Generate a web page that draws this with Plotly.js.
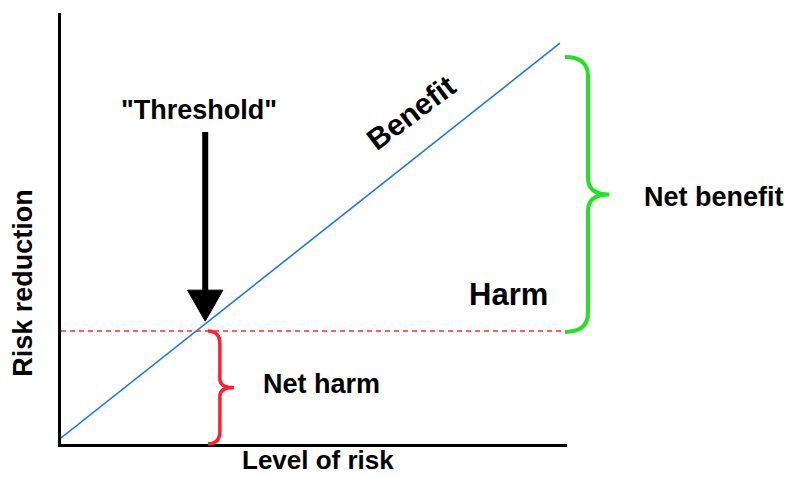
<!DOCTYPE html>
<html>
<head>
<meta charset="utf-8">
<script src="https://cdn.plot.ly/plotly-3.0.1.min.js"></script>
<style>
  html, body { margin: 0; padding: 0; background: #fff; }
  #chart { width: 788px; height: 477px; }
</style>
</head>
<body>
<div id="chart"></div>
<script>
// Risk reduction vs level of risk (schematic)
const riskLevel = [0, 0.986];
const riskReduction = [0.014, 0.930];
const harmX = [0, 0.99];
const harmY = [0.262, 0.262];

// threshold arrow and braces (paper units, same as axis units here)
const arrowX = 0.285;
const arrowTail = 0.724;
const arrowTip = 0.285;

const FONT = 'Liberation Sans, Arial, sans-serif';

function brace(x0, xv, xt, yTop, yBot, r, rt) {
    const ym = (yTop + yBot) / 2;
    return `M${x0},${yTop} Q${xv},${yTop} ${xv},${yTop - r} L${xv},${ym + rt} ` +
           `Q${xv},${ym} ${xt},${ym} Q${xv},${ym} ${xv},${ym - rt} ` +
           `L${xv},${yBot + r} Q${xv},${yBot} ${x0},${yBot}`;
}

function label(text, x, y, size, angle) {
    return {
        text: text, x: x, y: y, xref: 'paper', yref: 'paper',
        xanchor: 'center', yanchor: 'middle',
        showarrow: false, textangle: angle || 0,
        font: { family: FONT, size: size, color: '#000', weight: 'bold' }
    };
}

const traces = [
    {
        x: riskLevel, y: riskReduction, type: 'scatter', mode: 'lines',
        line: { color: '#1a76f2', width: 1.6 }, hoverinfo: 'skip'
    },
    {
        x: harmX, y: harmY, type: 'scatter', mode: 'lines',
        line: { color: '#ff2b2b', width: 1.5, dash: '5px,4px' }, hoverinfo: 'skip'
    }
];

const headW = 0.035, headL = 0.072;

const xTitle = label('Level of risk', 0.508, -0.0765, 26);
xTitle.yanchor = 'bottom';

const layout = {
    width: 788, height: 477,
    margin: { l: 61, r: 221, t: 13, b: 33 },
    paper_bgcolor: '#fff', plot_bgcolor: '#fff',
    showlegend: false,
    xaxis: {
        range: [0, 1], showgrid: false, zeroline: false, showticklabels: false,
        ticks: '', showline: true, linecolor: '#000', linewidth: 3, fixedrange: true
    },
    yaxis: {
        range: [0, 1], showgrid: false, zeroline: false, showticklabels: false,
        ticks: '', showline: true, linecolor: '#000', linewidth: 3, fixedrange: true
    },
    shapes: [
        // arrow shaft
        {
            type: 'line', xref: 'paper', yref: 'paper',
            x0: arrowX, x1: arrowX, y0: arrowTail, y1: arrowTip + headL - 0.005,
            line: { color: '#000', width: 6 }
        },
        // arrow head
        {
            type: 'path', xref: 'paper', yref: 'paper',
            path: `M${arrowX - headW},${arrowTip + headL} L${arrowX + headW},${arrowTip + headL} L${arrowX},${arrowTip} Z`,
            fillcolor: '#000', line: { color: '#000', width: 1 }
        },
        // net benefit brace
        {
            type: 'path', xref: 'paper', yref: 'paper',
            path: brace(0.996, 1.0415, 1.083, 0.898, 0.260, 0.045, 0.038),
            line: { color: '#22e322', width: 4 }
        },
        // net harm brace
        {
            type: 'path', xref: 'paper', yref: 'paper',
            path: brace(0.2905, 0.314, 0.342, 0.262, 0.0, 0.03, 0.02),
            line: { color: '#ff1f2e', width: 3.5 }
        }
    ],
    annotations: [
        label('"Threshold"', 0.273, 0.775, 27),
        label('Benefit', 0.692, 0.770, 30, -37),
        label('Harm', 0.885, 0.346, 31),
        label('Net benefit', 1.29, 0.573, 27),
        label('Net harm', 0.514, 0.140, 27),
        xTitle,
        label('Risk reduction', -0.075, 0.374, 27, -90)
    ]
};

Plotly.newPlot('chart', traces, layout, { staticPlot: true, displayModeBar: false });
</script>
</body>
</html>
